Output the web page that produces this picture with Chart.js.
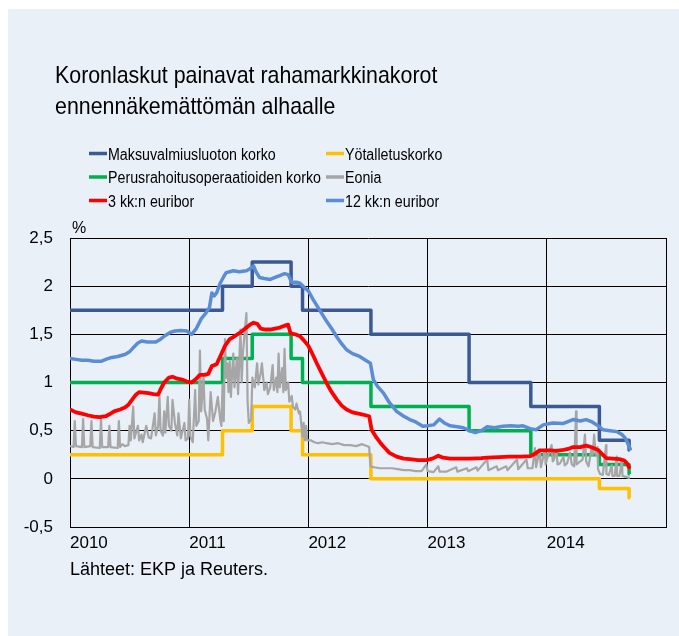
<!DOCTYPE html>
<html>
<head>
<meta charset="utf-8">
<script src="https://cdn.jsdelivr.net/npm/chart.js@4/dist/chart.umd.min.js"></script>
<style>
html,body{margin:0;padding:0;background:#fff;}
#wrap{width:679px;height:636px;}
</style>
</head>
<body>
<div id="wrap"><canvas id="c" width="679" height="636"></canvas></div>
<script>
// ---- Data ----
const titleLines = ['Koronlaskut painavat rahamarkkinakorot', 'ennennäkemättömän alhaalle'];
const seriesNames = ['Maksuvalmiusluoton korko', 'Yötalletuskorko', 'Perusrahoitusoperaatioiden korko', 'Eonia', '3 kk:n euribor', '12 kk:n euribor'];
const sourceText = 'Lähteet: EKP ja Reuters.';
const unitText = '%';

// ECB policy rate change dates (last entry = end of data)
const stepDates = ['2010-01-01','2011-04-13','2011-07-13','2011-11-09','2011-12-14','2012-07-11','2013-05-08','2013-11-13','2014-06-11','2014-09-10','2014-09-12'];
const mlfRate = [1.75, 2.00, 2.25, 2.00, 1.75, 1.50, 1.00, 0.75, 0.40, 0.30, 0.30];
const mroRate = [1.00, 1.25, 1.50, 1.25, 1.00, 0.75, 0.50, 0.25, 0.15, 0.05, 0.05];
const depRate = [0.25, 0.50, 0.75, 0.50, 0.25, 0.00, 0.00, 0.00, -0.10, -0.20, -0.20];

// 12-month Euribor (decimal year, %)
const e12T = [2010.00,2010.05,2010.10,2010.15,2010.20,2010.26,2010.30,2010.35,2010.40,2010.46,2010.50,2010.53,2010.57,2010.60,2010.65,2010.72,2010.76,2010.79,2010.84,2010.88,2010.93,2010.98,2011.02,2011.06,2011.10,2011.14,2011.17,2011.19,2011.21,2011.23,2011.26,2011.29,2011.31,2011.34,2011.37,2011.42,2011.48,2011.51,2011.54,2011.56,2011.59,2011.63,2011.68,2011.72,2011.76,2011.80,2011.83,2011.86,2011.90,2011.93,2011.97,2012.00,2012.04,2012.07,2012.11,2012.15,2012.20,2012.24,2012.28,2012.32,2012.37,2012.43,2012.48,2012.52,2012.545,2012.58,2012.63,2012.68,2012.74,2012.80,2012.85,2012.90,2012.96,2013.00,2013.05,2013.10,2013.14,2013.19,2013.25,2013.30,2013.35,2013.40,2013.45,2013.50,2013.56,2013.63,2013.70,2013.76,2013.80,2013.86,2013.91,2013.97,2014.05,2014.14,2014.22,2014.28,2014.33,2014.38,2014.42,2014.47,2014.53,2014.59,2014.63,2014.66,2014.70];
const e12V = [1.25,1.24,1.23,1.23,1.22,1.22,1.24,1.26,1.27,1.29,1.32,1.36,1.41,1.43,1.42,1.42,1.45,1.48,1.52,1.535,1.54,1.535,1.50,1.56,1.66,1.72,1.78,1.93,1.90,1.93,2.03,2.10,2.14,2.15,2.16,2.15,2.16,2.18,2.21,2.15,2.09,2.08,2.07,2.09,2.11,2.13,2.12,2.04,2.04,2.03,1.98,1.95,1.86,1.80,1.72,1.64,1.55,1.47,1.40,1.34,1.30,1.27,1.23,1.20,1.03,0.96,0.89,0.79,0.70,0.65,0.615,0.59,0.545,0.55,0.56,0.62,0.58,0.55,0.54,0.53,0.50,0.48,0.50,0.54,0.53,0.545,0.55,0.545,0.55,0.52,0.51,0.56,0.58,0.575,0.615,0.60,0.615,0.59,0.56,0.51,0.50,0.49,0.46,0.42,0.31];

// 3-month Euribor
const e3T = [2010.00,2010.05,2010.09,2010.15,2010.20,2010.25,2010.30,2010.33,2010.37,2010.42,2010.46,2010.49,2010.52,2010.55,2010.58,2010.62,2010.66,2010.70,2010.74,2010.76,2010.79,2010.83,2010.86,2010.90,2010.94,2010.98,2011.02,2011.06,2011.09,2011.13,2011.16,2011.19,2011.23,2011.26,2011.30,2011.34,2011.38,2011.43,2011.47,2011.51,2011.54,2011.57,2011.60,2011.64,2011.68,2011.72,2011.76,2011.80,2011.83,2011.85,2011.89,2011.93,2011.96,2012.00,2012.04,2012.07,2012.11,2012.15,2012.19,2012.24,2012.28,2012.32,2012.37,2012.43,2012.48,2012.51,2012.53,2012.57,2012.60,2012.63,2012.68,2012.74,2012.80,2012.85,2012.92,2012.99,2013.04,2013.09,2013.13,2013.19,2013.25,2013.36,2013.45,2013.50,2013.60,2013.69,2013.78,2013.86,2013.90,2013.94,2014.03,2014.08,2014.14,2014.18,2014.22,2014.28,2014.33,2014.37,2014.43,2014.47,2014.50,2014.55,2014.61,2014.65,2014.67,2014.69];
const e3V = [0.72,0.69,0.68,0.66,0.645,0.64,0.65,0.67,0.70,0.72,0.74,0.77,0.82,0.87,0.90,0.895,0.89,0.88,0.875,0.93,1.00,1.05,1.06,1.04,1.03,1.01,1.00,1.04,1.08,1.08,1.09,1.17,1.19,1.27,1.38,1.45,1.48,1.52,1.56,1.60,1.62,1.61,1.56,1.55,1.55,1.56,1.57,1.59,1.60,1.51,1.50,1.48,1.44,1.38,1.28,1.20,1.10,1.00,0.91,0.82,0.76,0.72,0.69,0.675,0.66,0.65,0.51,0.43,0.38,0.335,0.27,0.23,0.21,0.205,0.195,0.195,0.21,0.24,0.22,0.21,0.21,0.21,0.215,0.22,0.225,0.23,0.23,0.235,0.26,0.295,0.295,0.29,0.30,0.31,0.33,0.33,0.345,0.33,0.30,0.25,0.215,0.21,0.205,0.19,0.165,0.12];

// Eonia
const eoT = [2010.00,2010.03,2010.04,2010.05,2010.10,2010.11,2010.12,2010.17,2010.18,2010.19,2010.25,2010.26,2010.27,2010.32,2010.33,2010.34,2010.40,2010.41,2010.42,2010.44,2010.46,2010.49,2010.50,2010.51,2010.53,2010.54,2010.57,2010.58,2010.60,2010.61,2010.64,2010.66,2010.68,2010.71,2010.72,2010.74,2010.75,2010.76,2010.78,2010.79,2010.80,2010.82,2010.83,2010.85,2010.86,2010.88,2010.90,2010.91,2010.93,2010.96,2010.97,2010.99,2011.00,2011.01,2011.03,2011.05,2011.06,2011.08,2011.09,2011.10,2011.12,2011.13,2011.15,2011.16,2011.18,2011.20,2011.22,2011.24,2011.26,2011.27,2011.28,2011.29,2011.30,2011.31,2011.32,2011.33,2011.34,2011.35,2011.36,2011.37,2011.38,2011.40,2011.41,2011.43,2011.44,2011.45,2011.48,2011.49,2011.50,2011.52,2011.53,2011.55,2011.57,2011.58,2011.60,2011.61,2011.63,2011.65,2011.66,2011.68,2011.70,2011.71,2011.73,2011.74,2011.75,2011.76,2011.78,2011.79,2011.80,2011.81,2011.83,2011.84,2011.86,2011.87,2011.89,2011.90,2011.92,2011.93,2011.95,2011.96,2011.97,2011.98,2011.99,2012.02,2012.05,2012.08,2012.12,2012.15,2012.20,2012.25,2012.30,2012.35,2012.40,2012.45,2012.49,2012.51,2012.52,2012.55,2012.60,2012.65,2012.70,2012.75,2012.80,2012.85,2012.90,2012.95,2012.99,2013.00,2013.05,2013.09,2013.10,2013.16,2013.24,2013.25,2013.33,2013.34,2013.41,2013.42,2013.50,2013.51,2013.58,2013.59,2013.66,2013.67,2013.75,2013.76,2013.83,2013.84,2013.88,2013.90,2013.91,2013.94,2013.95,2013.985,2013.99,2014.00,2014.04,2014.05,2014.06,2014.08,2014.09,2014.11,2014.14,2014.15,2014.17,2014.195,2014.21,2014.23,2014.245,2014.25,2014.27,2014.30,2014.32,2014.33,2014.35,2014.377,2014.385,2014.397,2014.41,2014.425,2014.43,2014.447,2014.47,2014.497,2014.50,2014.52,2014.545,2014.55,2014.57,2014.587,2014.59,2014.61,2014.63,2014.635,2014.665,2014.69];
const eoV = [0.34,0.33,0.60,0.34,0.33,0.62,0.33,0.34,0.60,0.33,0.32,0.62,0.33,0.33,0.55,0.33,0.32,0.60,0.33,0.36,0.34,0.35,0.55,0.40,0.75,0.42,0.55,0.40,0.46,0.38,0.55,0.43,0.42,0.68,0.45,0.55,0.87,0.50,0.45,0.70,0.48,0.85,0.55,0.50,0.82,0.58,0.45,0.68,0.42,0.58,0.40,0.42,0.82,0.44,0.38,0.92,0.55,0.60,1.33,0.70,1.05,0.72,0.62,0.40,0.90,0.60,0.70,0.85,0.62,0.55,0.98,0.60,1.45,1.05,1.20,0.90,1.22,0.85,1.10,1.30,0.95,1.25,0.88,1.55,1.00,1.30,1.72,0.80,0.58,0.62,1.05,0.95,1.20,0.98,1.10,1.20,0.92,1.00,0.88,0.95,1.18,0.92,1.05,0.90,1.30,0.95,1.15,0.90,1.35,0.92,1.00,0.80,0.86,0.75,0.72,0.78,0.68,0.70,0.44,0.58,0.40,0.55,0.40,0.40,0.38,0.37,0.38,0.37,0.36,0.37,0.35,0.35,0.34,0.36,0.34,0.33,0.13,0.12,0.11,0.11,0.11,0.10,0.09,0.09,0.08,0.08,0.15,0.08,0.07,0.13,0.075,0.075,0.12,0.075,0.11,0.08,0.12,0.085,0.20,0.09,0.13,0.09,0.13,0.09,0.20,0.10,0.20,0.11,0.11,0.32,0.12,0.30,0.12,0.30,0.15,0.20,0.35,0.18,0.20,0.30,0.15,0.16,0.23,0.14,0.16,0.27,0.15,0.13,0.70,0.15,0.17,0.20,0.46,0.18,0.13,0.33,0.25,0.46,0.25,0.33,0.10,0.05,0.04,0.35,0.05,0.04,0.14,0.03,0.03,0.23,0.03,0.03,0.20,0.03,0.02,0.01];

// Axis ticks
const xMin = 2010, xMax = 2015, xStep = 1;
const yMin = -0.5, yMax = 2.5, yStep = 0.5;

// ---- Helpers ----
function toYear(s) {
  const d = Date.parse(s + 'T00:00:00Z');
  const y = Number(s.slice(0, 4));
  const a = Date.UTC(y, 0, 1), b = Date.UTC(y + 1, 0, 1);
  return y + (d - a) / (b - a);
}
const stepX = stepDates.map(toYear);
const pts = (xs, ys) => xs.map((x, i) => ({x: x, y: ys[i]}));

const colors = {
  mlf: '#3b5a93', dep: '#ffc000', mro: '#00b050', eo: '#a6a6a6', e3: '#ff0000', e12: '#5b8dd6'
};
const FONT = '"Liberation Sans", Arial, Helvetica, sans-serif';
Chart.defaults.font.family = FONT;
Chart.defaults.color = '#000';

const legendItems = [
  {name: seriesNames[0], color: colors.mlf, col: 0, row: 0},
  {name: seriesNames[1], color: colors.dep, col: 1, row: 0},
  {name: seriesNames[2], color: colors.mro, col: 0, row: 1},
  {name: seriesNames[3], color: colors.eo, col: 1, row: 1},
  {name: seriesNames[4], color: colors.e3, col: 0, row: 2},
  {name: seriesNames[5], color: colors.e12, col: 1, row: 2}
];

const decor = {
  id: 'decor',
  beforeDraw(chart) {
    const ctx = chart.ctx;
    ctx.save();
    ctx.fillStyle = '#ffffff';
    ctx.fillRect(0, 0, chart.width, chart.height);
    ctx.fillStyle = '#e9f0f8';
    ctx.fillRect(8, 9, chart.width - 8, chart.height - 9);
    ctx.restore();
  },
  afterDraw(chart) {
    const ctx = chart.ctx;
    const ca = chart.chartArea;
    ctx.save();
    ctx.fillStyle = '#000';
    ctx.textBaseline = 'alphabetic';
    ctx.textAlign = 'left';
    // title
    ctx.font = '24px ' + FONT;
    titleLines.forEach((t, i) => {
      ctx.save();
      ctx.translate(55, 83 + i * 31);
      ctx.scale(0.89, 1);
      ctx.fillText(t, 0, 0);
      ctx.restore();
    });
    // legend
    const colX = [89, 326], rowY = [153.5, 177, 200.5];
    legendItems.forEach(it => {
      const x = colX[it.col], y = rowY[it.row];
      ctx.strokeStyle = it.color;
      ctx.lineWidth = 3.5;
      ctx.lineCap = 'butt';
      ctx.beginPath();
      ctx.moveTo(x, y);
      ctx.lineTo(x + 18, y);
      ctx.stroke();
      ctx.save();
      ctx.font = '16px ' + FONT;
      ctx.translate(x + 19, y + 6);
      ctx.scale(0.89, 1);
      ctx.fillText(it.name, 0, 0);
      ctx.restore();
    });
    // unit
    ctx.font = '16px ' + FONT;
    ctx.fillText(unitText, ca.left + 2, ca.top - 5);
    // source
    ctx.font = '18px ' + FONT;
    ctx.fillText(sourceText, ca.left, 575);
    ctx.restore();
  }
};

const common = {pointRadius: 0, pointHoverRadius: 0, fill: false, tension: 0, borderJoinStyle: 'round'};

new Chart(document.getElementById('c'), {
  type: 'line',
  data: {
    datasets: [
      Object.assign({label: seriesNames[0], data: pts(stepX, mlfRate), borderColor: colors.mlf, borderWidth: 3.5, stepped: 'before', order: 6, borderCapStyle: 'butt'}, common),
      Object.assign({label: seriesNames[1], data: pts(stepX, depRate), borderColor: colors.dep, borderWidth: 3.5, stepped: 'before', order: 5, borderCapStyle: 'butt'}, common),
      Object.assign({label: seriesNames[2], data: pts(stepX, mroRate), borderColor: colors.mro, borderWidth: 3.5, stepped: 'before', order: 4, borderCapStyle: 'butt'}, common),
      Object.assign({label: seriesNames[3], data: pts(eoT, eoV), borderColor: colors.eo, borderWidth: 2.2, order: 3, borderCapStyle: 'round'}, common),
      Object.assign({label: seriesNames[4], data: pts(e3T, e3V), borderColor: colors.e3, borderWidth: 3.8, order: 2, borderCapStyle: 'round'}, common),
      Object.assign({label: seriesNames[5], data: pts(e12T, e12V), borderColor: colors.e12, borderWidth: 3.5, order: 1, borderCapStyle: 'round'}, common)
    ]
  },
  options: {
    responsive: false,
    animation: false,
    events: [],
    layout: {padding: {left: 0, top: 238, right: 13, bottom: 69}},
    plugins: {legend: {display: false}, title: {display: false}, tooltip: {enabled: false}},
    scales: {
      x: {
        type: 'linear', min: xMin, max: xMax,
        grid: {color: '#000', lineWidth: 1, drawTicks: false},
        border: {display: true, color: '#000', width: 1},
        ticks: {stepSize: xStep, align: 'start', padding: 6, maxRotation: 0, autoSkip: false,
          font: {size: 17}, color: '#000',
          callback: v => (v === xMax ? '' : String(v))},
        afterFit: s => { s.height = 40; }
      },
      y: {
        min: yMin, max: yMax,
        grid: {color: '#000', lineWidth: 1, drawTicks: false},
        border: {display: true, color: '#000', width: 1},
        ticks: {stepSize: yStep, padding: 17, font: {size: 17}, color: '#000',
          callback: v => String(v).replace('.', ',')},
        afterFit: s => { s.width = 70; }
      }
    }
  },
  plugins: [decor]
});
</script>
</body>
</html>
